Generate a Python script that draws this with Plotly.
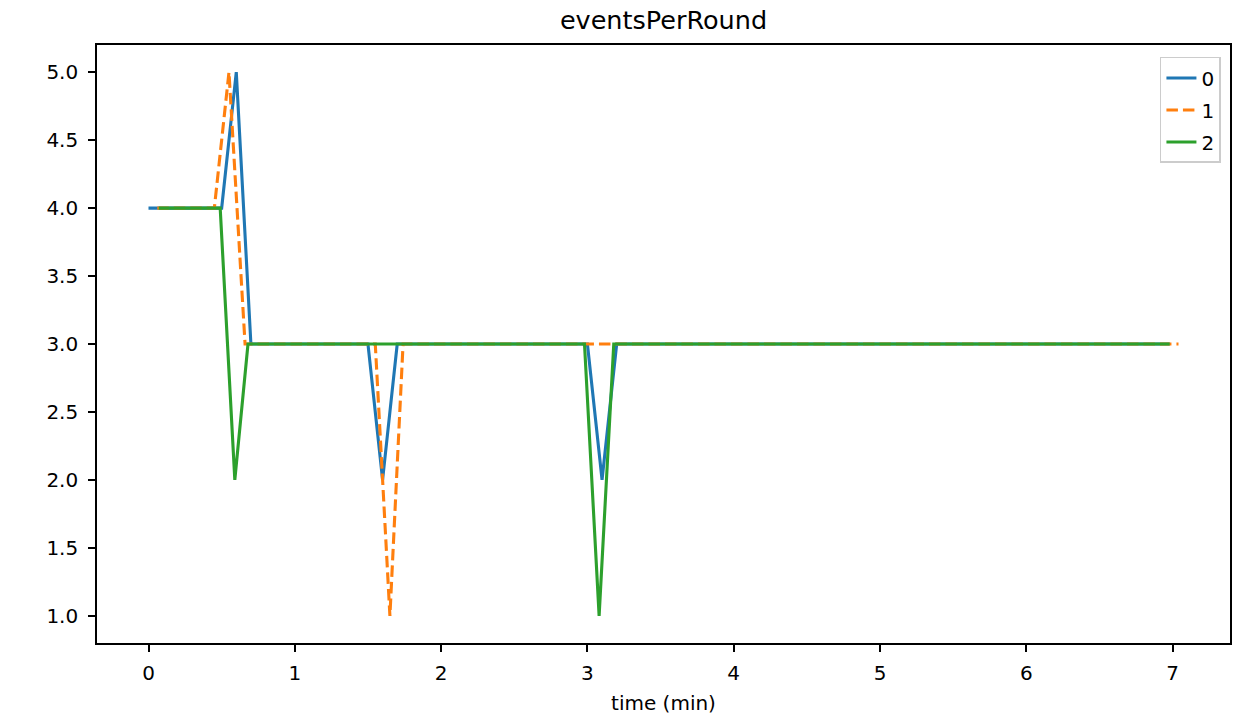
import plotly.graph_objects as go

# Breakpoints of each series (time in minutes, events per round)
t0 = [0.0, 0.5, 0.6, 0.7, 1.5, 1.6, 1.7, 3.0, 3.1, 3.2, 6.98]
y0 = [4, 4, 5, 3, 3, 2, 3, 3, 2, 3, 3]

t1 = [0.06, 0.45, 0.55, 0.66, 1.55, 1.65, 1.74, 7.04]
y1 = [4, 4, 5, 3, 3, 1, 3, 3]

t2 = [0.07, 0.49, 0.59, 0.68, 2.98, 3.08, 3.18, 6.98]
y2 = [4, 4, 2, 3, 3, 1, 3, 3]

x_ticks = [0, 1, 2, 3, 4, 5, 6, 7]
y_ticks = [1.0, 1.5, 2.0, 2.5, 3.0, 3.5, 4.0, 4.5, 5.0]

FONT = "DejaVu Sans"

fig = go.Figure()
fig.add_trace(go.Scatter(x=t0, y=y0, mode="lines", name="0", legendgroup="0",
                         line=dict(color="#1f77b4", width=3.1)))
fig.add_trace(go.Scatter(x=t1, y=y1, mode="lines", name="1", legendgroup="1",
                         line=dict(color="#ff7f0e", width=3.1, dash="11.5px,5px")))
fig.add_trace(go.Scatter(x=t2, y=y2, mode="lines", name="2", legendgroup="2",
                         line=dict(color="#2ca02c", width=3.1)))

axis_common = dict(showgrid=False, zeroline=False, showline=True, linecolor="black",
                   linewidth=1.6, mirror=True, ticks="outside", ticklen=7, tickwidth=1.6,
                   tickcolor="black", tickfont=dict(family=FONT, size=20, color="black"))

fig.update_layout(
    width=1234, height=718,
    margin=dict(l=97, r=2, t=45, b=75),
    paper_bgcolor="white", plot_bgcolor="white",
    title=dict(text="eventsPerRound", x=0.5, xanchor="center", xref="paper",
               y=1 - 20 / 718, yanchor="middle",
               font=dict(family=FONT, size=25.5, color="black")),
    xaxis=dict(range=[-0.352, 7.392], tickvals=x_ticks,
               title=dict(text="time (min)", font=dict(family=FONT, size=20, color="black"), standoff=12),
               ticklabelstandoff=4, **axis_common),
    yaxis=dict(range=[0.8, 5.2], tickvals=y_ticks, tickformat=".1f",
               ticklabelstandoff=6, **axis_common),
    legend=dict(x=0.992, y=0.98, xanchor="right", yanchor="top",
                bgcolor="white", bordercolor="#cccccc", borderwidth=1.5,
                font=dict(family=FONT, size=20, color="black"),
                tracegroupgap=3),
    showlegend=True,
)

fig.write_html("out.html", config={"displayModeBar": False},
               post_script="document.body.style.margin='0';")
